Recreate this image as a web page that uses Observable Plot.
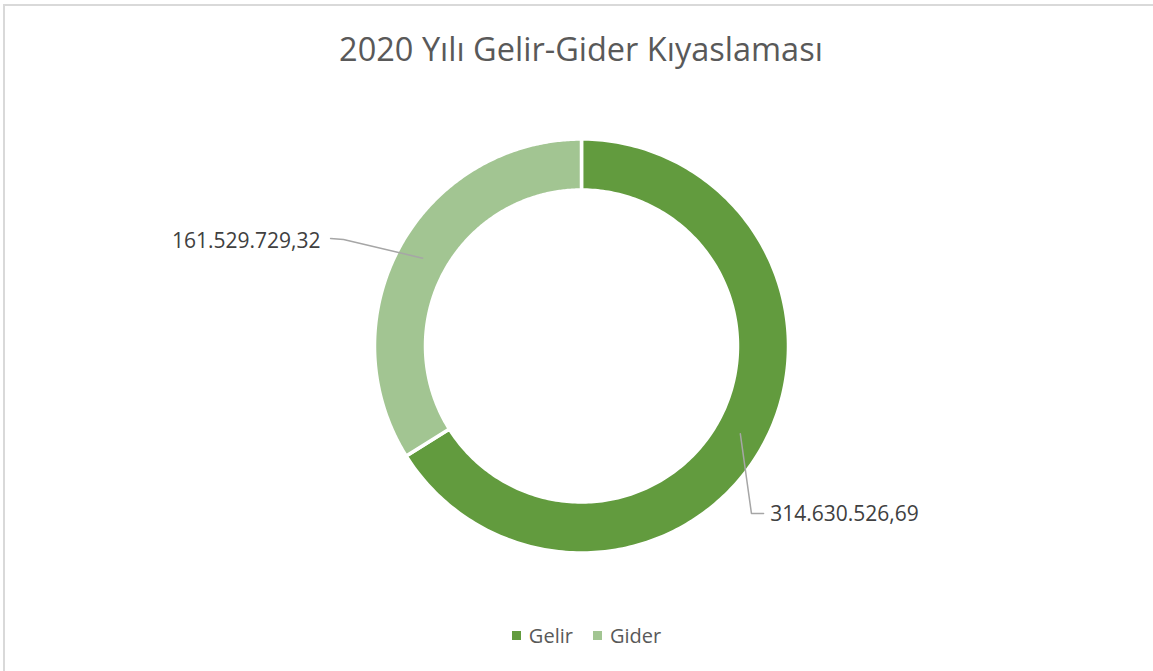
<!DOCTYPE html>
<html><head><meta charset="utf-8">
<script src="https://cdn.jsdelivr.net/npm/d3@7"></script>
<script src="https://cdn.jsdelivr.net/npm/@observablehq/plot@0.6"></script>
<style>
body{margin:0;background:#fff;font-family:"Open Sans",sans-serif;overflow:hidden;}
#frame{position:absolute;left:3px;top:4px;width:1300px;height:800px;border-left:2px solid #d9d9d9;border-top:2px solid #d9d9d9;}
#title{position:absolute;left:0;width:1162px;top:26px;text-align:center;font-size:32.5px;color:#595959;white-space:nowrap;}
#chart{position:absolute;left:0;top:100px;}
#legend{position:absolute;top:622px;left:0;width:1173px;display:flex;justify-content:center;gap:20px;font-size:20px;color:#595959;}
#legend .item{display:flex;align-items:center;gap:8px;}
#legend .sw{width:9px;height:9px;display:inline-block;}
</style>
</head><body>
<div id="frame"></div>
<div id="title">2020 Yılı Gelir-Gider Kıyaslaması</div>
<div id="chart"></div>
<div id="legend"></div>
<script>
const categories = ["Gelir", "Gider"];
const values = [314630526.69, 161529729.32];
const valueLabels = ["314.630.526,69", "161.529.729,32"];
const colors = ["#629b3e", "#a2c592"];

// layout (unit coordinates: 1 = outer radius)
const labelLayout = {
  Gelir: {elbow: [0.827, -0.815], end: [0.886, -0.815], text: [0.918, -0.820], anchor: "start"},
  Gider: {elbow: [-1.158, 0.518], end: [-1.221, 0.523], text: [-1.270, 0.509], anchor: "end"}
};
const R = 205.5, cx = 581, cy = 245.5;
const rOut = 207 / R, rIn = 156 / R, rMid = 181.5 / R;

const pie = d3.pie().sort(null).startAngle(0).endAngle(2 * Math.PI)(values);
const ring = [];
const leaders = [];
const texts = [];
pie.forEach((p, i) => {
  const cat = categories[i];
  const N = 240;
  for (let k = 0; k <= N; k++) {
    const a = p.startAngle + (p.endAngle - p.startAngle) * k / N;
    ring.push({cat, x: rOut * Math.sin(a), y: rOut * Math.cos(a)});
  }
  for (let k = N; k >= 0; k--) {
    const a = p.startAngle + (p.endAngle - p.startAngle) * k / N;
    ring.push({cat, x: rIn * Math.sin(a), y: rIn * Math.cos(a)});
  }
  const m = (p.startAngle + p.endAngle) / 2;
  const L = labelLayout[cat];
  leaders.push({cat, x: rMid * Math.sin(m), y: rMid * Math.cos(m)});
  leaders.push({cat, x: L.elbow[0], y: L.elbow[1]});
  leaders.push({cat, x: L.end[0], y: L.end[1]});
  texts.push({cat, x: L.text[0], y: L.text[1], label: valueLabels[i], anchor: L.anchor});
});

const chart = Plot.plot({
  width: 1153,
  height: 490,
  margin: 0,
  style: {fontFamily: "Open Sans", background: "transparent"},
  x: {domain: [-1, 1], range: [cx - R, cx + R], axis: null},
  y: {domain: [-1, 1], range: [cy + R, cy - R], axis: null},
  color: {domain: categories, range: colors},
  marks: [
    Plot.line(ring, {x: "x", y: "y", z: "cat", fill: "cat", stroke: "white", strokeWidth: 3.5, curve: "linear-closed"}),
    Plot.line(leaders, {x: "x", y: "y", z: "cat", stroke: "#a6a6a6", strokeWidth: 1.5}),
    Plot.text(texts.filter(d => d.anchor === "start"), {x: "x", y: "y", text: "label", textAnchor: "start", fontSize: 21, fill: "#404040"}),
    Plot.text(texts.filter(d => d.anchor === "end"), {x: "x", y: "y", text: "label", textAnchor: "end", fontSize: 21, fill: "#404040"})
  ]
});
document.getElementById("chart").appendChild(chart);

const leg = document.getElementById("legend");
categories.forEach((c, i) => {
  const it = document.createElement("div");
  it.className = "item";
  const sw = document.createElement("span");
  sw.className = "sw";
  sw.style.background = colors[i];
  const t = document.createElement("span");
  t.textContent = c;
  it.appendChild(sw); it.appendChild(t);
  leg.appendChild(it);
});
</script>
</body></html>
